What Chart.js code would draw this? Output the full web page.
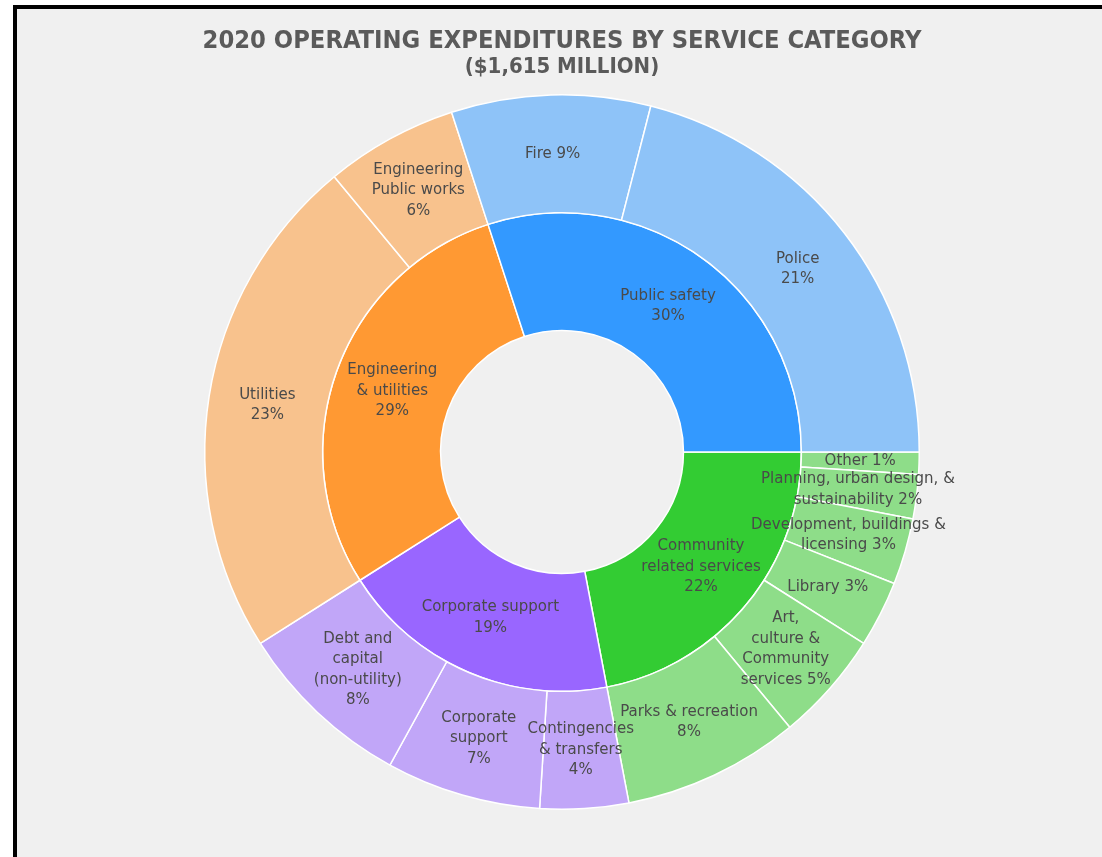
<!DOCTYPE html>
<html>
<head>
<meta charset="utf-8">
<title>2020 Operating Expenditures by Service Category</title>
<script src="https://cdn.jsdelivr.net/npm/chart.js@4.4.1/dist/chart.umd.min.js"></script>
<style>
  html, body { margin: 0; padding: 0; width: 1102px; height: 857px; overflow: hidden; background: #fff; }
  #frame {
    position: absolute; left: 13px; top: 5px; width: 1200px; height: 900px;
    border-left: 4px solid #000; border-top: 4px solid #000; background: #f0f0f0;
  }
  #titles {
    position: absolute; left: 0; top: 27px; width: 1124px; text-align: center;
    font-family: "DejaVu Sans Condensed", "DejaVu Sans", sans-serif; font-stretch: condensed;
    font-weight: bold; color: #5a5a5a; line-height: 26px; z-index: 2;
  }
  #titles .main { font-size: 25.3px; }
  #titles .sub { font-size: 22px; }
  #chart { position: absolute; left: 0; top: 0; z-index: 1; }
</style>
</head>
<body>
<div id="frame"></div>
<div id="titles">
  <div class="main">2020 OPERATING EXPENDITURES BY SERVICE CATEGORY</div>
  <div class="sub">($1,615 MILLION)</div>
</div>
<canvas id="chart" width="1102" height="857"></canvas>
<script>
// inner ring, clockwise from 3 o'clock
const groupNames = ['Community\nrelated services', 'Corporate support', 'Engineering\n& utilities', 'Public safety'];
const groupPct = [22, 19, 29, 30];
const groupColors = ['#33CC33', '#9966FF', '#FF9933', '#3399FF'];

// outer ring, clockwise from 3 o'clock
const serviceNames = [
  'Other',
  'Planning, urban design, &\nsustainability',
  'Development, buildings &\nlicensing',
  'Library',
  'Art,\nculture &\nCommunity\nservices',
  'Parks & recreation',
  'Contingencies\n& transfers',
  'Corporate\nsupport',
  'Debt and\ncapital\n(non-utility)',
  'Utilities',
  'Engineering\nPublic works',
  'Fire',
  'Police'
];
const servicePct = [1, 2, 3, 3, 5, 8, 4, 7, 8, 23, 6, 9, 21];
const serviceGroup = [0, 0, 0, 0, 0, 0, 1, 1, 1, 2, 2, 3, 3];
// percentage written on the same line as the name?
const servicePctInline = [true, true, true, true, true, false, false, false, false, false, false, true, false];

const lightColors = ['#8EDD89', '#C1A6F8', '#F8C28D', '#8EC3F8'];

function makeLines(name, pct, inline) {
  const lines = name.split('\n');
  if (inline) lines[lines.length - 1] += ' ' + pct + '%';
  else lines.push(pct + '%');
  return lines;
}

const sliceLabels = {
  id: 'sliceLabels',
  afterDatasetsDraw(chart) {
    const ctx = chart.ctx;
    ctx.save();
    ctx.font = '15px "DejaVu Sans", sans-serif';
    ctx.fillStyle = '#4a4a4a';
    ctx.textAlign = 'center';
    ctx.textBaseline = 'middle';
    const lh = 20.5;
    chart.data.datasets.forEach((ds, di) => {
      const meta = chart.getDatasetMeta(di);
      meta.data.forEach((arc, i) => {
        const p = arc.getCenterPoint();
        const lines = ds.textLines[i];
        const y0 = p.y - (lines.length - 1) * lh / 2;
        lines.forEach((t, k) => ctx.fillText(t, p.x, y0 + k * lh));
      });
    });
    ctx.restore();
  }
};

const ctx = document.getElementById('chart');
const chart = new Chart(ctx, {
  type: 'doughnut',
  data: {
    labels: serviceNames.map(n => n.replace(/\n/g, ' ')),
    datasets: [
      {
        label: 'Service',
        data: servicePct,
        backgroundColor: serviceGroup.map(g => lightColors[g]),
        borderColor: '#ffffff',
        borderWidth: 1.5,
        textLines: serviceNames.map((n, i) => makeLines(n, servicePct[i], servicePctInline[i]))
      },
      {
        label: 'Category',
        data: groupPct,
        backgroundColor: groupColors,
        borderColor: '#ffffff',
        borderWidth: 1.5,
        textLines: groupNames.map((n, i) => makeLines(n, groupPct[i], false))
      }
    ]
  },
  options: {
    responsive: false,
    animation: false,
    rotation: 90,
    cutout: '34%',
    layout: { padding: { left: 204, right: 182, top: 94, bottom: 47 } },
    plugins: {
      legend: { display: false },
      tooltip: { enabled: false }
    }
  },
  plugins: [sliceLabels]
});
</script>
</body>
</html>
